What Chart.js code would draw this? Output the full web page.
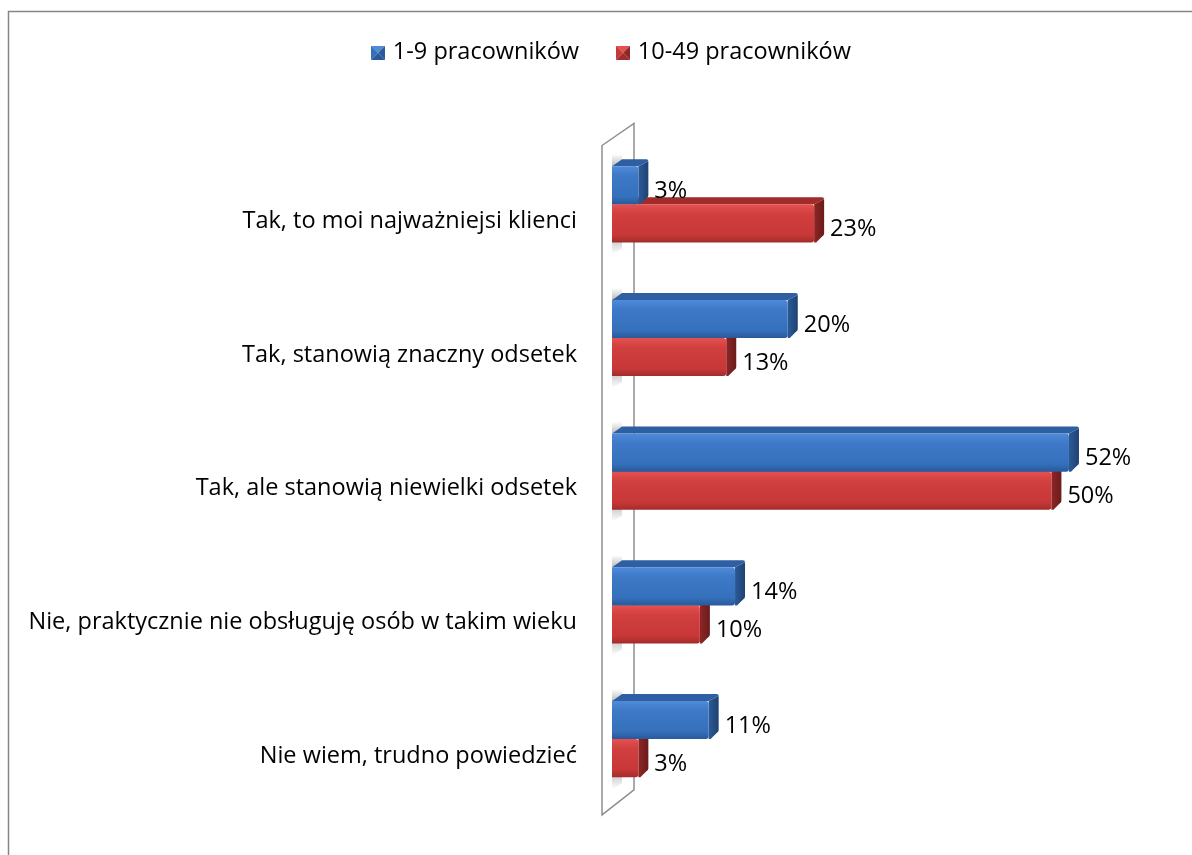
<!DOCTYPE html>
<html>
<head>
<meta charset="utf-8">
<script src="https://cdn.jsdelivr.net/npm/chart.js@4.4.0/dist/chart.umd.min.js"></script>
<style>
  html, body { margin: 0; padding: 0; background: #fff; }
  #wrap { position: relative; width: 1192px; height: 855px; }
</style>
</head>
<body>
<div id="wrap"><canvas id="klienciChart" width="1192" height="855"></canvas></div>
<script>
// odpowiedzi
const kategorie = [
  'Tak, to moi najważniejsi klienci',
  'Tak, stanowią znaczny odsetek',
  'Tak, ale stanowią niewielki odsetek',
  'Nie, praktycznie nie obsługuję osób w takim wieku',
  'Nie wiem, trudno powiedzieć'
];
const serie = ['1-9 pracowników', '10-49 pracowników'];
const mikro = [3, 20, 52, 14, 11];
const male = [23, 13, 50, 10, 3];

const FONT = '"Open Sans", Lato, sans-serif';
const FSIZE = 23.5;
const DX = 10, DY = 7; // glebokosc slupka

const kolory = [
  { front: ['#4f8bd8', '#3d79c6', '#3470bb', '#29599a'], top: '#2d5fa2', side: ['#2c5a96', '#1e4273'] },
  { front: ['#e65050', '#d13f3f', '#c83838', '#a22c2c'], top: '#9f2b2b', side: ['#8e2626', '#6a1b1b'] }
];

// ikonka legendy - piramidka
function ikona(c) {
  const cv = document.createElement('canvas');
  cv.width = 14; cv.height = 14;
  const g = cv.getContext('2d');
  const s = 14, m = 7;
  const tri = (pts, col) => {
    g.beginPath(); g.moveTo(pts[0], pts[1]); g.lineTo(pts[2], pts[3]); g.lineTo(pts[4], pts[5]);
    g.closePath(); g.fillStyle = col; g.fill();
  };
  tri([0, 0, s, 0, m, m], c.front[0]);
  tri([0, 0, 0, s, m, m], c.front[2]);
  tri([s, 0, s, s, m, m], c.side[0]);
  tri([0, s, s, s, m, m], c.front[3]);
  return cv;
}

const ramka = {
  id: 'ramka',
  beforeDraw(chart) {
    const ctx = chart.ctx;
    ctx.save();
    ctx.fillStyle = '#fff';
    ctx.fillRect(0, 0, chart.width, chart.height);
    ctx.strokeStyle = '#868686';
    ctx.lineWidth = 1.5;
    ctx.beginPath();
    ctx.moveTo(8.5, chart.height);
    ctx.lineTo(8.5, 11.5);
    ctx.lineTo(chart.width, 11.5);
    ctx.stroke();
    ctx.restore();
  }
};

// sciana boczna 3D
const sciana = {
  id: 'sciana',
  beforeDatasetsDraw(chart) {
    const { ctx, chartArea: a } = chart;
    const fx = a.left - 10, bx = a.left + 22;
    ctx.save();
    ctx.beginPath();
    ctx.moveTo(fx, a.top + 8);
    ctx.lineTo(bx, a.top - 14);
    ctx.lineTo(bx, a.bottom - 16);
    ctx.lineTo(fx, a.bottom + 9);
    ctx.closePath();
    ctx.fillStyle = '#fff';
    ctx.fill();
    ctx.strokeStyle = '#8f8f8f';
    ctx.lineWidth = 1.5;
    ctx.stroke();
    // cienie slupkow na scianie
    chart.data.datasets.forEach((ds, di) => {
      chart.getDatasetMeta(di).data.forEach(bar => {
        const x0 = bar.base;
        const top = bar.y - bar.height / 2, bottom = bar.y + bar.height / 2;
        let g;
        ctx.beginPath();
        if (di === 0) {
          g = ctx.createLinearGradient(0, top - 12, 0, top);
          g.addColorStop(0, 'rgba(140,140,140,0)');
          g.addColorStop(1, 'rgba(140,140,140,0.6)');
          ctx.moveTo(x0, top);
          ctx.lineTo(x0 + DX, top - DY);
          ctx.lineTo(x0 + DX, top - DY - 10);
          ctx.lineTo(x0, top - 12);
        } else {
          g = ctx.createLinearGradient(0, bottom - DY, 0, bottom + 12);
          g.addColorStop(0, 'rgba(140,140,140,0.6)');
          g.addColorStop(1, 'rgba(140,140,140,0)');
          ctx.moveTo(x0, bottom);
          ctx.lineTo(x0 + DX, bottom - DY);
          ctx.lineTo(x0 + DX, bottom + 6);
          ctx.lineTo(x0, bottom + 12);
        }
        ctx.closePath();
        ctx.fillStyle = g;
        ctx.fill();
      });
    });
    ctx.restore();
  }
};

// slupki 3D i etykiety wartosci
const slupki3d = {
  id: 'slupki3d',
  afterDatasetsDraw(chart) {
    const ctx = chart.ctx;
    ctx.save();
    [1, 0].forEach(di => {
      const c = kolory[di];
      chart.getDatasetMeta(di).data.forEach(bar => {
        const x0 = bar.base, x1 = bar.x;
        const top = bar.y - bar.height / 2, bottom = bar.y + bar.height / 2;
        // gora
        ctx.beginPath();
        ctx.moveTo(x0, top);
        ctx.lineTo(x0 + DX, top - DY);
        ctx.lineTo(x1 + DX - 2, top - DY);
        ctx.quadraticCurveTo(x1 + DX, top - DY, x1 + DX, top - DY + 2);
        ctx.lineTo(x1, top);
        ctx.closePath();
        ctx.fillStyle = c.top;
        ctx.fill();
        // bok
        const gs = ctx.createLinearGradient(x1, 0, x1 + DX, 0);
        gs.addColorStop(0, c.side[0]);
        gs.addColorStop(1, c.side[1]);
        ctx.beginPath();
        ctx.moveTo(x1, top);
        ctx.lineTo(x1 + DX, top - DY + 2);
        ctx.lineTo(x1 + DX, bottom - DY - 2);
        ctx.quadraticCurveTo(x1 + DX, bottom - DY, x1 + DX - 2, bottom - DY + 1);
        ctx.lineTo(x1 + 2, bottom);
        ctx.lineTo(x1, bottom);
        ctx.closePath();
        ctx.fillStyle = gs;
        ctx.fill();
        // przod
        const gf = ctx.createLinearGradient(0, top, 0, bottom);
        gf.addColorStop(0, c.front[0]);
        gf.addColorStop(0.25, c.front[1]);
        gf.addColorStop(0.8, c.front[2]);
        gf.addColorStop(1, c.front[3]);
        ctx.beginPath();
        ctx.moveTo(x0, top);
        ctx.lineTo(x1 - 3, top);
        ctx.quadraticCurveTo(x1, top, x1, top + 3);
        ctx.lineTo(x1, bottom - 3);
        ctx.quadraticCurveTo(x1, bottom, x1 - 3, bottom);
        ctx.lineTo(x0, bottom);
        ctx.closePath();
        ctx.fillStyle = gf;
        ctx.fill();
      });
    });
    ctx.fillStyle = '#000';
    ctx.font = FSIZE + 'px ' + FONT;
    ctx.textAlign = 'left';
    ctx.textBaseline = 'middle';
    [0, 1].forEach(di => {
      const dane = chart.data.datasets[di].data;
      chart.getDatasetMeta(di).data.forEach((bar, i) => {
        ctx.fillText(dane[i] + '%', bar.x + 16, bar.y + 6);
      });
    });
    ctx.restore();
  }
};

// odstep pod legenda + przesuniecie legendy w prawo
const odstepLegendy = {
  id: 'odstepLegendy',
  beforeInit(chart) {
    const lg = chart.legend;
    const fit = lg.fit;
    lg.fit = function () {
      fit.call(lg);
      this.height += 63;
    };
    const draw = lg.draw;
    lg.draw = function () {
      chart.ctx.save();
      chart.ctx.translate(17, 0);
      draw.call(lg);
      chart.ctx.restore();
    };
  }
};

new Chart(document.getElementById('klienciChart').getContext('2d'), {
  type: 'bar',
  data: {
    labels: kategorie,
    datasets: [
      { label: serie[0], data: mikro, backgroundColor: 'rgba(0,0,0,0)', pointStyle: ikona(kolory[0]) },
      { label: serie[1], data: male, backgroundColor: 'rgba(0,0,0,0)', pointStyle: ikona(kolory[1]) }
    ]
  },
  options: {
    indexAxis: 'y',
    responsive: false,
    animation: false,
    devicePixelRatio: 1,
    categoryPercentage: 0.57,
    barPercentage: 1,
    layout: { padding: { top: 0, bottom: 47, right: 0, left: 0 } },
    plugins: {
      legend: {
        position: 'top',
        labels: {
          usePointStyle: true,
          boxHeight: 14,
          pointStyleWidth: 6,
          padding: 41,
          color: '#000',
          font: { family: FONT, size: FSIZE }
        }
      },
      tooltip: { enabled: false }
    },
    scales: {
      x: { display: false, min: 0, max: 66 },
      y: {
        grid: { display: false, drawTicks: false },
        border: { display: false },
        afterFit(scale) { scale.width = 612; },
        ticks: {
          padding: 35,
          labelOffset: 17,
          color: '#000',
          font: { family: FONT, size: FSIZE }
        }
      }
    }
  },
  plugins: [ramka, sciana, slupki3d, odstepLegendy]
});
</script>
</body>
</html>
